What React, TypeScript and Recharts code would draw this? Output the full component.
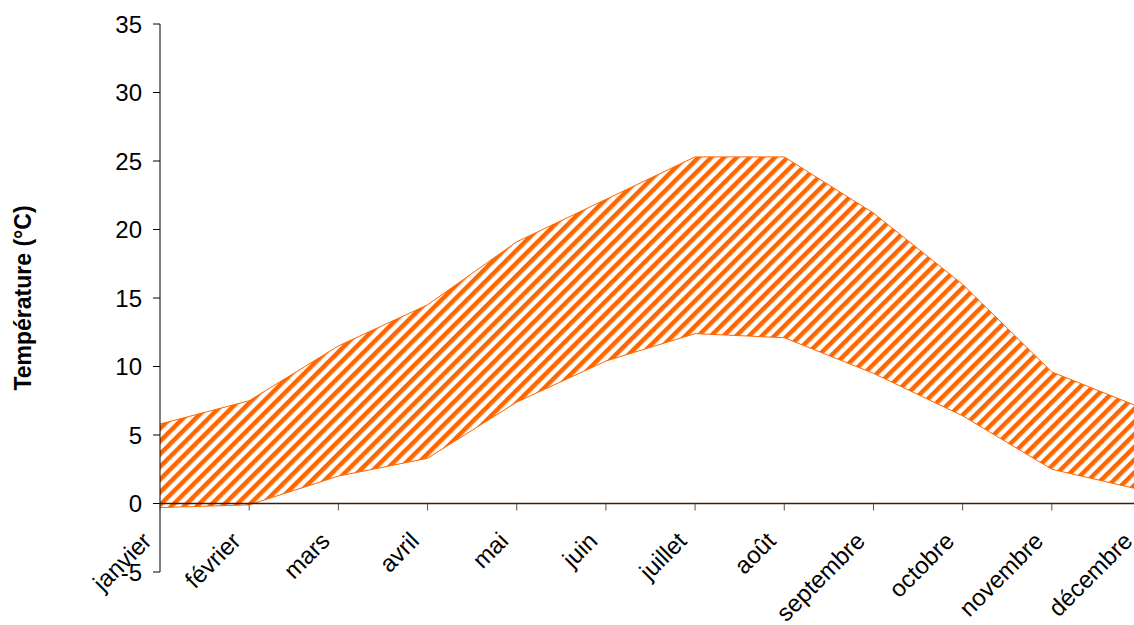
import React from 'react';
import { AreaChart, Area, XAxis, YAxis, ReferenceLine, Label } from 'recharts';

const months = ['janvier', 'février', 'mars', 'avril', 'mai', 'juin', 'juillet', 'août', 'septembre', 'octobre', 'novembre', 'décembre'];
const tMax = [5.8, 7.5, 11.5, 14.5, 19.1, 22.2, 25.3, 25.3, 21.2, 16.0, 9.6, 7.0];
const tMin = [-0.3, -0.1, 2.0, 3.3, 7.4, 10.4, 12.4, 12.1, 9.5, 6.4, 2.5, 1.0];
const yTicks = [-5, 0, 5, 10, 15, 20, 25, 30, 35];

const data = months.map((m, i) => ({ month: m, range: [tMin[i], tMax[i]] }));

const W = 1150;
const H = 625;
const TOP = 24;
const BOTTOM_PLOT = 572;
const Y_MIN = -5;
const Y_MAX = 35;
const ZERO_Y = TOP + ((Y_MAX - 0) / (Y_MAX - Y_MIN)) * (BOTTOM_PLOT - TOP);
const FONT = '"Liberation Sans", Arial, sans-serif';
const ORANGE = '#FF6600';

const XTick = (props: any) => {
  const { x, payload } = props;
  const tx = x - 7;
  const ty = ZERO_Y + 39;
  return (
    <g>
      <line x1={x} y1={ZERO_Y} x2={x} y2={ZERO_Y + 7} stroke="#555" strokeWidth={1} />
      <text
        x={tx}
        y={ty}
        transform={`rotate(-45 ${tx} ${ty})`}
        textAnchor="end"
        fontFamily={FONT}
        fontSize={24}
        fill="#000"
      >
        {payload.value}
      </text>
    </g>
  );
};

export default function App() {
  return (
    <div style={{ position: 'fixed', left: 0, top: 0, width: 1134, height: 625, overflow: 'hidden', background: '#fff' }}>
      <AreaChart
        width={W}
        height={H}
        data={data}
        margin={{ top: TOP, right: 9, bottom: H - BOTTOM_PLOT - 30, left: 0 }}
      >
        <defs>
          <pattern id="stripes" patternUnits="userSpaceOnUse" width="9" height="9" patternTransform="rotate(45)">
            <rect width="9" height="9" fill="#fff" />
            <rect width="4.5" height="9" fill={ORANGE} />
          </pattern>
        </defs>
        <XAxis
          dataKey="month"
          axisLine={false}
          tickLine={false}
          interval={0}
          height={30}
          tick={(p: any) => <XTick {...p} />}
        />
        <YAxis
          width={160}
          domain={[Y_MIN, Y_MAX]}
          ticks={yTicks}
          interval={0}
          allowDataOverflow
          axisLine={{ stroke: '#000', strokeWidth: 1 }}
          tickLine={{ stroke: '#000', strokeWidth: 1 }}
          tickSize={7}
          tickMargin={11}
          tick={{ fontFamily: FONT, fontSize: 24, fill: '#000' }}
        >
          <Label
            content={(lp: any) => {
              const vb = lp.viewBox || {};
              const cx = 23;
              const cy = (vb.y ?? TOP) + (vb.height ?? BOTTOM_PLOT - TOP) / 2;
              return (
                <text
                  x={cx}
                  y={cy}
                  transform={`rotate(-90 ${cx} ${cy})`}
                  textAnchor="middle"
                  dominantBaseline="central"
                  fontFamily={FONT}
                  fontSize={23}
                  fontWeight="bold"
                  fill="#000"
                >
                  Température (°C)
                </text>
              );
            }}
          />
        </YAxis>
        <Area
          type="linear"
          dataKey="range"
          stroke={ORANGE}
          strokeWidth={1}
          fill="url(#stripes)"
          fillOpacity={1}
          dot={false}
          activeDot={false}
          isAnimationActive={false}
        />
        <ReferenceLine y={0} stroke="#3a1e08" strokeWidth={1.5} />
      </AreaChart>
    </div>
  );
}
